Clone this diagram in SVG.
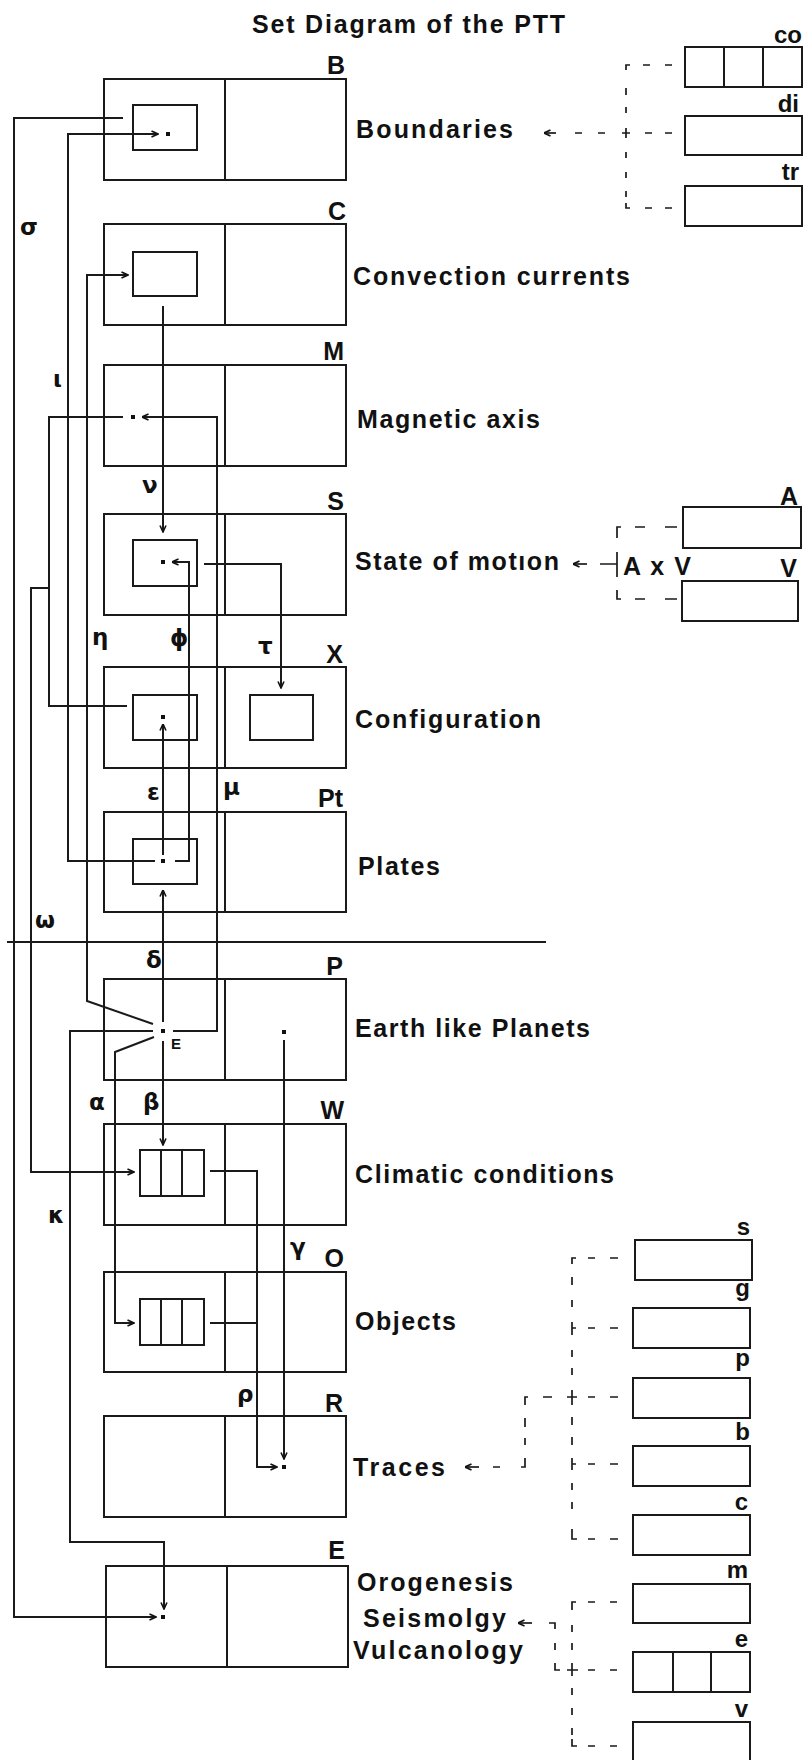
<svg xmlns="http://www.w3.org/2000/svg" width="809" height="1760" viewBox="0 0 809 1760">
<defs>
<style>
.bx{fill:none;stroke:#1a1a1a;stroke-width:2}
.ln{fill:none;stroke:#1a1a1a;stroke-width:2}
.dl{fill:none;stroke:#1a1a1a;stroke-width:1.7}
.dot{fill:#111}
.t{font-family:"Liberation Sans",Arial,sans-serif;font-weight:bold;font-size:25px;fill:#111}
.tr{font-family:"Liberation Sans",Arial,sans-serif;font-weight:bold;font-size:25px;fill:#111;text-anchor:end}
.sm{font-family:"Liberation Sans",Arial,sans-serif;font-weight:bold;font-size:24px;fill:#111;text-anchor:end}
.gk{font-family:"DejaVu Sans",sans-serif;font-weight:bold;font-size:23px;fill:#111}
</style>
<marker id="ah" viewBox="0 0 8 8" refX="7.5" refY="4" markerWidth="8" markerHeight="8" markerUnits="userSpaceOnUse" orient="auto"><path d="M1,1 L7.5,4 L1,7" fill="none" stroke="#111" stroke-width="1.6"/></marker>
</defs>
<rect width="809" height="1760" fill="#ffffff"/>

<text id="title" class="t" x="252" y="33" textLength="313" lengthAdjust="spacing">Set Diagram of the PTT</text>

<g id="B">
<rect class="bx" x="104" y="79" width="242" height="101"/><line class="bx" x1="225" y1="79" x2="225" y2="180"/>
<rect class="bx" x="133" y="105" width="64" height="45"/>
<rect class="dot" x="166" y="132" width="4" height="4"/>
<text class="tr" x="345" y="74">B</text>
<text class="t" x="356" y="138" textLength="157" lengthAdjust="spacing">Boundaries</text>
</g>
<g id="C">
<rect class="bx" x="104" y="224" width="242" height="101"/><line class="bx" x1="225" y1="224" x2="225" y2="325"/>
<rect class="bx" x="133" y="252" width="64" height="44"/>
<text class="tr" x="346" y="220">C</text>
<text class="t" x="353" y="285" textLength="277" lengthAdjust="spacing">Convection currents</text>
</g>
<g id="M">
<rect class="bx" x="104" y="365" width="242" height="101"/><line class="bx" x1="225" y1="365" x2="225" y2="466"/>
<rect class="dot" x="131" y="415" width="4" height="4"/>
<text class="tr" x="344" y="360">M</text>
<text class="t" x="357" y="428" textLength="183" lengthAdjust="spacing">Magnetic axis</text>
</g>
<g id="S">
<rect class="bx" x="104" y="514" width="242" height="101"/><line class="bx" x1="225" y1="514" x2="225" y2="615"/>
<rect class="bx" x="133" y="540" width="64" height="46"/>
<rect class="dot" x="161" y="560" width="4" height="4"/>
<text class="tr" x="344" y="510">S</text>
<text class="t" x="355" y="570" textLength="204" lengthAdjust="spacing">State of motıon</text>
</g>
<g id="X">
<rect class="bx" x="104" y="667" width="242" height="101"/><line class="bx" x1="225" y1="667" x2="225" y2="768"/>
<rect class="bx" x="133" y="695" width="64" height="45"/>
<rect class="bx" x="250" y="695" width="63" height="45"/>
<rect class="dot" x="161" y="715" width="4" height="4"/>
<text class="tr" x="343" y="663">X</text>
<text class="t" x="355" y="728" textLength="186" lengthAdjust="spacing">Configuration</text>
</g>
<g id="Pt">
<rect class="bx" x="104" y="812" width="242" height="100"/><line class="bx" x1="225" y1="812" x2="225" y2="912"/>
<rect class="bx" x="133" y="839" width="64" height="45"/>
<rect class="dot" x="161" y="859" width="4" height="4"/>
<text class="tr" x="343" y="807">Pt</text>
<text class="t" x="358" y="875" textLength="82" lengthAdjust="spacing">Plates</text>
</g>
<g id="P">
<rect class="bx" x="104" y="979" width="242" height="101"/><line class="bx" x1="225" y1="979" x2="225" y2="1080"/>
<rect class="dot" x="161" y="1029" width="4" height="4"/>
<rect class="dot" x="282" y="1030" width="4" height="4"/>
<text x="171" y="1049" style="font-family:'Liberation Sans',Arial,sans-serif;font-weight:bold;font-size:15px;fill:#111">E</text>
<text class="tr" x="343" y="975">P</text>
<text class="t" x="355" y="1037" textLength="235" lengthAdjust="spacing">Earth like Planets</text>
</g>
<g id="W">
<rect class="bx" x="104" y="1124" width="242" height="101"/><line class="bx" x1="225" y1="1124" x2="225" y2="1225"/>
<rect class="bx" x="140" y="1150" width="64" height="46"/>
<line class="bx" x1="161" y1="1150" x2="161" y2="1196"/><line class="bx" x1="182" y1="1150" x2="182" y2="1196"/>
<text class="tr" x="344" y="1119">W</text>
<text class="t" x="355" y="1183" textLength="259" lengthAdjust="spacing">Climatic conditions</text>
</g>
<g id="O">
<rect class="bx" x="104" y="1272" width="242" height="100"/><line class="bx" x1="225" y1="1272" x2="225" y2="1372"/>
<rect class="bx" x="140" y="1299" width="64" height="46"/>
<line class="bx" x1="161" y1="1299" x2="161" y2="1345"/><line class="bx" x1="182" y1="1299" x2="182" y2="1345"/>
<text class="tr" x="344" y="1267">O</text>
<text class="t" x="355" y="1330" textLength="101" lengthAdjust="spacing">Objects</text>
</g>
<g id="R">
<rect class="bx" x="104" y="1416" width="242" height="101"/><line class="bx" x1="225" y1="1416" x2="225" y2="1517"/>
<rect class="dot" x="282" y="1465" width="4" height="4"/>
<text class="tr" x="343" y="1412">R</text>
<text class="t" x="353" y="1476" textLength="92" lengthAdjust="spacing">Traces</text>
</g>
<g id="E">
<rect class="bx" x="106" y="1566" width="242" height="101"/><line class="bx" x1="227" y1="1566" x2="227" y2="1667"/>
<rect class="dot" x="161" y="1615" width="4" height="4"/>
<text class="tr" x="345" y="1559">E</text>
<text class="t" x="357" y="1591" textLength="156" lengthAdjust="spacing">Orogenesis</text>
<text class="t" x="363" y="1627" textLength="143" lengthAdjust="spacing">Seismolgy</text>
<text class="t" x="353" y="1659" textLength="170" lengthAdjust="spacing">Vulcanology</text>
</g>

<g id="boundary-types">
<rect class="bx" x="685" y="47" width="117" height="40"/><line class="bx" x1="724" y1="47" x2="724" y2="87"/><line class="bx" x1="763" y1="47" x2="763" y2="87"/>
<text class="sm" x="802" y="43">co</text>
<rect class="bx" x="685" y="116" width="117" height="39"/>
<text class="sm" x="799" y="112">di</text>
<rect class="bx" x="685" y="186" width="117" height="40"/>
<text class="sm" x="799" y="180">tr</text>
</g>
<g id="motion-types">
<rect class="bx" x="683" y="507" width="118" height="41"/>
<text class="tr" x="798" y="505">A</text>
<rect class="bx" x="682" y="581" width="116" height="40"/>
<text class="tr" x="797" y="577">V</text>
<text class="t" x="623" y="575" textLength="68" lengthAdjust="spacing">A x V</text>
</g>
<g id="trace-types">
<rect class="bx" x="635" y="1240" width="117" height="40"/><text class="sm" x="750" y="1235">s</text>
<rect class="bx" x="633" y="1308" width="117" height="40"/><text class="sm" x="750" y="1296">g</text>
<rect class="bx" x="633" y="1378" width="117" height="40"/><text class="sm" x="750" y="1366">p</text>
<rect class="bx" x="633" y="1446" width="117" height="40"/><text class="sm" x="750" y="1440">b</text>
<rect class="bx" x="633" y="1515" width="117" height="40"/><text class="sm" x="748" y="1510">c</text>
</g>
<g id="orogeny-types">
<rect class="bx" x="633" y="1584" width="117" height="39"/><text class="sm" x="748" y="1578">m</text>
<rect class="bx" x="633" y="1652" width="117" height="40"/><line class="bx" x1="673" y1="1652" x2="673" y2="1692"/><line class="bx" x1="711" y1="1652" x2="711" y2="1692"/><text class="sm" x="748" y="1647">e</text>
<rect class="bx" x="633" y="1722" width="117" height="45"/><text class="sm" x="748" y="1717">v</text>
</g>

<g id="connectors">
<line class="ln" x1="7" y1="942" x2="546" y2="942"/>
<path class="ln" d="M123,118 H14 V1617 H156" marker-end="url(#ah)"/>
<path class="ln" d="M155,861 H68 V134 H158" marker-end="url(#ah)"/>
<path class="ln" d="M153,1024 L87,1001 V275 H128" marker-end="url(#ah)"/>
<path class="ln" d="M163,306 V532" marker-end="url(#ah)"/>
<path class="ln" d="M123,417 H49 V706 H127"/>
<path class="ln" d="M49,588 H31 V1172 H134" marker-end="url(#ah)"/>
<path class="ln" d="M173,1031 H217 V417 H142" marker-end="url(#ah)"/>
<path class="ln" d="M175,861 H189 V562 H172" marker-end="url(#ah)"/>
<path class="ln" d="M204,564 H281 V688" marker-end="url(#ah)"/>
<path class="ln" d="M163,855 V724" marker-end="url(#ah)"/>
<path class="ln" d="M163,1022 V890" marker-end="url(#ah)"/>
<path class="ln" d="M163,1041 V1145" marker-end="url(#ah)"/>
<path class="ln" d="M154,1037 L115,1052 V1323 H134" marker-end="url(#ah)"/>
<path class="ln" d="M153,1031 H70 V1542 H164 V1609" marker-end="url(#ah)"/>
<path class="ln" d="M210,1171 H257 V1467 H277" marker-end="url(#ah)"/>
<path class="ln" d="M210,1323 H257"/>
<path class="ln" d="M284,1040 V1459" marker-end="url(#ah)"/>

<path class="dl" d="M626,70 V65 H630 M643,65 H650 M665,65 H672 M626,88 V95 M626,107 V113 M626,128 V138 M622,133 H630 M645,133 H652 M665,133 H672 M598,133 H605 M575,133 H582 M626,152 V158 M626,172 V178 M626,191 V197 M626,203 V208 H630 M645,208 H652 M665,208 H672"/>
<path class="dl" d="M556,133 H544" marker-end="url(#ah)"/>
<path class="dl" d="M617,538 V527 H621 M635,527 H645 M665,527 H677 M617,552 V577 M600,564 H617 M617,590 V599 H621 M635,599 H645 M665,599 H677"/>
<path class="dl" d="M587,564 H573" marker-end="url(#ah)"/>
<path class="dl" d="M572,1264 V1258 H576 M588,1258 H595 M610,1258 H618 M572,1277 V1285 M572,1300 V1307 M572,1322 V1335 M572,1328 H576 M588,1328 H595 M610,1328 H618 M572,1350 V1357 M572,1368 V1375 M572,1390 V1405 M567,1397 H577 M588,1397 H595 M610,1397 H618 M543,1397 H552 M528,1397 H525 V1405 M525,1418 V1427 M525,1438 V1445 M525,1458 V1467 H521 M493,1467 H500 M572,1417 V1425 M572,1437 V1445 M572,1458 V1470 M572,1464 H576 M588,1464 H595 M610,1464 H618 M572,1483 V1490 M572,1502 V1509 M572,1529 V1539 H577 M588,1539 H595 M610,1539 H618"/>
<path class="dl" d="M479,1467 H465" marker-end="url(#ah)"/>
<path class="dl" d="M572,1610 V1602 H576 M588,1602 H595 M610,1602 H617 M572,1625 V1632 M572,1643 V1650 M572,1663 V1676 M567,1670 H578 M588,1670 H595 M610,1670 H617 M572,1688 V1695 M572,1708 V1715 M572,1728 V1735 M572,1739 V1746 H577 M588,1746 H595 M610,1746 H617 M549,1623 H555 V1629 M555,1643 V1650 M555,1663 V1670 H560"/>
<path class="dl" d="M532,1623 H518" marker-end="url(#ah)"/>
</g>

<g id="greek-labels">
<text class="gk" x="20" y="235">σ</text>
<text class="gk" x="53" y="387">ι</text>
<text class="gk" x="142" y="493">ν</text>
<text class="gk" x="92" y="645">η</text>
<text class="gk" x="170" y="646">ϕ</text>
<text class="gk" x="258" y="654">τ</text>
<text class="gk" x="147" y="800">ε</text>
<text class="gk" x="223" y="795">μ</text>
<text class="gk" x="35" y="928">ω</text>
<text class="gk" x="146" y="968">δ</text>
<text class="gk" x="89" y="1110">α</text>
<text class="gk" x="143" y="1110">β</text>
<text class="gk" x="48" y="1223">κ</text>
<text class="gk" x="290" y="1255">γ</text>
<text class="gk" x="237" y="1402">ρ</text>
</g>
</svg>
